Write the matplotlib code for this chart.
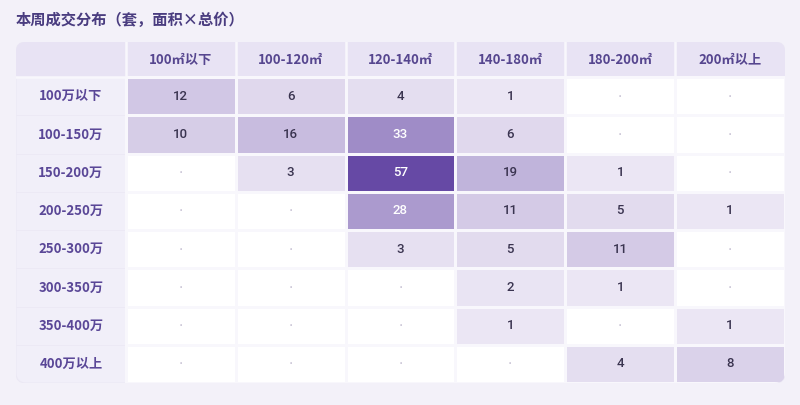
import numpy as np
import matplotlib.pyplot as plt
from matplotlib.colors import LinearSegmentedColormap
from matplotlib.patches import FancyBboxPatch, Rectangle

plt.rcParams['font.family'] = ['Noto Sans CJK SC', 'DejaVu Sans']

title = "本周成交分布（套，面积×总价）"
price_bins = ["100万以下", "100-150万", "150-200万", "200-250万",
              "250-300万", "300-350万", "350-400万", "400万以上"]
area_bins = ["100㎡以下", "100-120㎡", "120-140㎡", "140-180㎡", "180-200㎡", "200㎡以上"]

row_100 = [12, 6, 4, 1, 0, 0]
row_150 = [10, 16, 33, 6, 0, 0]
row_200 = [0, 3, 57, 19, 1, 0]
row_250 = [0, 0, 28, 11, 5, 1]
row_300 = [0, 0, 3, 5, 11, 0]
row_350 = [0, 0, 0, 2, 1, 0]
row_400 = [0, 0, 0, 1, 0, 1]
row_top = [0, 0, 0, 0, 4, 8]

counts = np.array([row_100, row_150, row_200, row_250, row_300, row_350, row_400, row_top])

BG = "#f3f1f9"
HEAD_BG = "#e8e3f4"
LABEL_BG = "#f1eff9"
GAP = "#f8f7fc"
cmap = LinearSegmentedColormap.from_list("pp", ["#ebe6f4", "#6649a5"])

fig = plt.figure(figsize=(8, 4.05), dpi=100, facecolor=BG)
ax = fig.add_axes([16 / 800, 1 - 383 / 405, 769 / 800, 341 / 405])
ax.set_facecolor(BG)
nr, nc = counts.shape
head_h = 0.92
ax.set_xlim(0, nc + 1)
ax.set_ylim(nr, -head_h)
ax.axis("off")

# rounded table frame
frame = FancyBboxPatch((0, -head_h), nc + 1, nr + head_h,
                       boxstyle="round,pad=0,rounding_size=0.09",
                       mutation_aspect=2.88, facecolor=LABEL_BG,
                       edgecolor="#ebe8f4", linewidth=0.8, zorder=0)
ax.add_patch(frame)

# header bar
hdr = Rectangle((0, -head_h), nc + 1, head_h, facecolor=HEAD_BG, edgecolor="none", zorder=1)
ax.add_patch(hdr)
hdr.set_clip_path(frame)
for j in range(1, nc + 1):
    ax.plot([j, j], [-head_h, 0], color=GAP, lw=1.8, zorder=2)
ax.plot([0, nc + 1], [0, 0], color=GAP, lw=1.8, zorder=2)

# data cells
colors = cmap((counts - 1) / (counts.max() - 1))
colors[counts == 0] = (1, 1, 1, 1)
xe = np.arange(1, nc + 2)
ye = np.arange(0, nr + 1)
mesh = ax.pcolormesh(xe, ye, np.zeros_like(counts, dtype=float), zorder=2,
                     edgecolors=GAP, linewidth=1.8)
mesh.set_array(None)
mesh.set_facecolor(colors.reshape(-1, 4))
mesh.set_clip_path(frame)

for i in range(nr):
    ax.plot([0, 1], [i + 1, i + 1], color="#ecE9f5", lw=0.6, zorder=1)

for j, lab in enumerate(area_bins):
    ax.text(j + 1.5, -head_h / 2, lab, ha="center", va="center",
            fontsize=9.5, fontweight="bold", color="#56468f", zorder=3)
for i, lab in enumerate(price_bins):
    ax.text(0.5, i + 0.5, lab, ha="center", va="center",
            fontsize=9.5, fontweight="bold", color="#5a4797", zorder=3)

for i in range(nr):
    for j in range(nc):
        v = counts[i, j]
        if v == 0:
            ax.text(j + 1.5, i + 0.5, "·", ha="center", va="center",
                    fontsize=6, color="#c0bace", zorder=3)
        else:
            ax.text(j + 1.5, i + 0.5, str(v), ha="center", va="center",
                    fontsize=9.5, fontweight="medium",
                    color="white" if v >= 25 else "#3a3450",
                    fontfamily=["Roboto", "DejaVu Sans"], zorder=3)

fig.text(16 / 800, 1 - 20 / 405, title, ha="left", va="center",
         fontsize=11, fontweight="bold", color="#4a3d80")

fig.savefig("out.png", dpi=100, facecolor=BG)
